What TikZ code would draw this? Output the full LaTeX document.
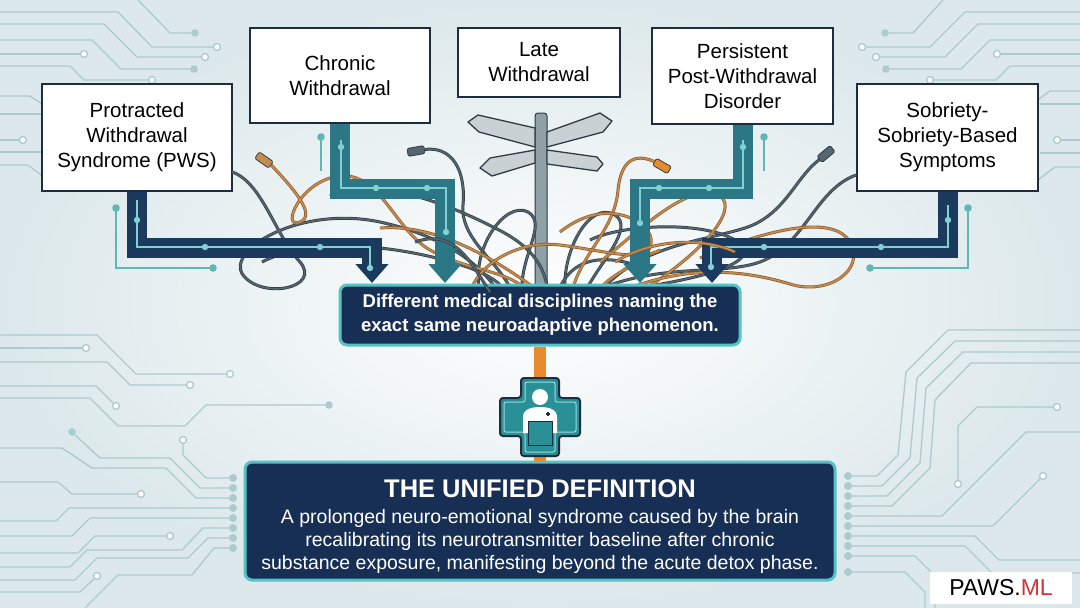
\documentclass[tikz,border=0pt]{standalone}
\usepackage{fontspec}
\setmainfont{Liberation Sans}
\usetikzlibrary{arrows.meta}
\definecolor{navy}{HTML}{1B3A5E}
\definecolor{deepnavy}{HTML}{172F55}
\definecolor{tealarrow}{HTML}{2C7785}
\definecolor{glow}{HTML}{55C2C4}
\definecolor{railteal}{HTML}{5FB8B4}
\definecolor{inkline}{HTML}{1E2C40}
\definecolor{tracecol}{HTML}{ADCACC}
\definecolor{bgedge}{HTML}{DCE8EB}
\definecolor{wiregrey}{HTML}{56666F}
\definecolor{wiredark}{HTML}{2E3B44}
\definecolor{copper}{HTML}{C68C50}
\definecolor{copperdark}{HTML}{8A5A2C}
\definecolor{barorange}{HTML}{EA8A2E}
\definecolor{crossteal}{HTML}{2A9098}
\definecolor{signgrey}{HTML}{C9D1D5}
\definecolor{polegrey}{HTML}{8FA0A7}
\definecolor{logored}{HTML}{D1343B}
\begin{document}
\begin{tikzpicture}[x=1pt,y=-1pt,
  term/.style={draw=inkline, line width=2pt, fill=white, align=center, inner sep=0pt,
    font=\fontsize{20.5}{25}\selectfont},
  flow/.style={line width=20pt, draw=#1, -{Triangle[width=32pt,length=19pt]}},
  rail/.style={draw=#1, line width=1.2pt},
  trace/.style={draw=tracecol, line width=1.3pt},
  wire/.style={draw=wiredark, double=wiregrey, double distance=1.6pt, line width=0.7pt},
  cu/.style={draw=copperdark, double=copper, double distance=1.6pt, line width=0.7pt},
  plug/.style={draw=wiredark, fill=#1, line width=0.8pt, minimum width=17pt,
    minimum height=8pt, inner sep=0pt, rounded corners=1.5pt},
  sign/.style={draw=wiredark, fill=signgrey, line width=1.3pt, line join=round},
  panel/.style={draw=glow, line width=3pt, fill=deepnavy, rounded corners=7pt, inner sep=0pt}
]
\useasboundingbox (0,0) rectangle (1080,608);
\shade[inner color=white, outer color=bgedge] (0,0) rectangle (1080,608);

\draw[trace] (138,0) -- (170,33) -- (191,33);
\draw[trace] (0,12) -- (118,12) -- (152,47) -- (213,47);
\draw[trace] (0,24) -- (104,24) -- (137,57) -- (201,57);
\draw[trace] (0,40) -- (92,40) -- (121,69) -- (190,69);
\draw[trace] (0,54) -- (80,54);
\draw[trace] (0,66) -- (70,66) -- (84,80) -- (148,80);
\draw[trace] (0,96) -- (30,96) -- (48,108);
\draw[trace] (0,114) -- (45,114);
\draw[trace] (0,140) -- (19,140);
\draw[trace] (0,152) -- (45,152);
\draw[trace] (0,165) -- (28,165) -- (45,178);
\draw[trace] (943,0) -- (913,33) -- (889,33);
\draw[trace] (1080,12) -- (965,12) -- (930,47) -- (866,47);
\draw[trace] (1080,24) -- (978,24) -- (945,57) -- (880,57);
\draw[trace] (1080,40) -- (990,40) -- (961,69) -- (890,69);
\draw[trace] (1080,54) -- (1001,54);
\draw[trace] (1080,66) -- (1010,66) -- (996,80) -- (934,80);
\draw[trace] (1080,91) -- (1050,91) -- (1035,102);
\draw[trace] (1080,104) -- (1040,104);
\draw[trace] (1080,140) -- (1061,140);
\draw[trace] (1080,153) -- (1040,153);
\draw[trace] (1080,167) -- (1055,167) -- (1038,180);
\foreach \x/\y in {217/47,205/57,84/54,152/80,23/140,862/47,876/57,997/54,930/80,1057/140}
  \draw[trace, fill=white] (\x,\y) circle (3.5);
\foreach \x/\y in {195/33,194/69,885/33,886/69}
  \fill[tracecol] (\x,\y) circle (3.8);

\draw[trace] (0,335) -- (97,335) -- (136,374) -- (226,374);
\draw[trace] (0,348) -- (82,348);
\draw[trace] (0,362) -- (107,362) -- (130,385) -- (186,385);
\draw[trace] (0,386) -- (96,386) -- (113,403);
\draw[trace] (0,398) -- (90,398) -- (118,426) -- (185,426) -- (206,405) -- (326,405);
\draw[trace] (0,482) -- (58,482) -- (72,494) -- (137,494);
\draw[trace] (231,478) -- (206,478) -- (183,455) -- (183,444);
\draw[trace] (231,488) -- (200,488) -- (170,458) -- (100,458) -- (75,435);
\draw[trace] (231,498) -- (196,498) -- (166,468) -- (92,468) -- (62,448) -- (0,448);
\draw[trace] (0,521) -- (56,521) -- (69,508) -- (231,508);
\draw[trace] (0,536) -- (72,536) -- (90,518) -- (231,518);
\draw[trace] (0,553) -- (78,553) -- (95,536) -- (166,536);
\draw[trace] (0,567) -- (70,567) -- (87,550) -- (182,550) -- (203,528) -- (231,528);
\draw[trace] (0,580) -- (75,580) -- (97,558) -- (188,558) -- (208,538) -- (231,538);
\draw[trace] (85,608) -- (118,575) -- (192,575) -- (214,548) -- (231,548);
\draw[trace] (0,592) -- (80,592) -- (94,579);
\foreach \x/\y in {230/374,86/348,190/385,116/406,141/494,183/440,170/536,97/576}
  \draw[trace, fill=white] (\x,\y) circle (3.5);
\foreach \x/\y in {329/405,72/432}
  \fill[tracecol] (\x,\y) circle (3.8);
\foreach \y in {478,488,...,548}
  \fill[tracecol] (233,\y) circle (4);

\draw[trace] (850,476) -- (877,476) -- (898,455) -- (906,372) -- (948,330) -- (1080,330);
\draw[trace] (850,486) -- (882,486) -- (910,458) -- (917,378) -- (955,341) -- (1080,341);
\draw[trace] (850,496) -- (887,496) -- (920,463) -- (926,388) -- (963,352) -- (1080,352);
\draw[trace] (850,506) -- (892,506) -- (930,468) -- (935,400) -- (971,363) -- (1080,363);
\draw[trace] (850,516) -- (942,516) -- (1026,432) -- (1080,432);
\draw[trace] (850,526) -- (993,526) -- (1040,479);
\draw[trace] (850,536) -- (975,536) -- (999,560) -- (1080,560);
\draw[trace] (850,546) -- (965,546) -- (992,573) -- (1080,573);
\draw[trace] (850,556) -- (915,556) -- (935,576) -- (935,608);
\draw[trace] (850,572) -- (905,572) -- (925,592) -- (925,608);
\draw[trace] (958,480) -- (958,426) -- (977,407) -- (1053,407);
\foreach \x/\y in {1043/476,958/484,1057/407}
  \draw[trace, fill=white] (\x,\y) circle (3.5);
\foreach \y in {476,486,...,556,572}
  \fill[tracecol] (848,\y) circle (4);

\node[term, minimum width=190pt, minimum height=107pt] (pws) at (137,137.5) {Protracted\\Withdrawal\\Syndrome (PWS)};
\node[term, minimum width=180pt, minimum height=95pt] (chronic) at (340,75.5) {Chronic\\Withdrawal};
\node[term, minimum width=162pt, minimum height=69pt] (late) at (539,62.5) {Late\\Withdrawal};
\node[term, minimum width=181pt, minimum height=96pt] (ppwd) at (742.5,76) {Persistent\\Post-Withdrawal\\Disorder};
\node[term, minimum width=181pt, minimum height=107pt] (sobriety) at (947.5,137.5) {Sobriety-\\Sobriety-Based\\Symptoms};

\draw[draw=wiredark, fill=polegrey, line width=1pt, rounded corners=3pt] (535,292) -- (535,113) -- (547,113) -- (547,292);
\draw[sign] (468,122) -- (478,115) -- (535,128) -- (535,147) -- (479,132) -- cycle;
\draw[sign] (547,132) -- (600,113) -- (612,121) -- (603,132) -- (547,147) -- cycle;
\draw[sign] (480,168) -- (490,158) -- (535,150) -- (535,163) -- (492,176) -- cycle;
\draw[sign] (547,150) -- (597,157) -- (603,164) -- (597,171) -- (547,164) -- cycle;

\node[plug=copper, rotate=-35] (plugl) at (264,160) {};
\node[plug=wiregrey, rotate=10] (plugm) at (416,151) {};
\node[plug=barorange, rotate=-30] (plugo) at (662,166) {};
\node[plug=wiregrey, rotate=40] (plugr) at (826,154) {};

\draw[wire] (232,172) .. controls (262,182) and (275,235) .. (300,262) .. controls (322,288) and (262,300) .. (243,275) .. controls (225,250) and (300,205) .. (380,222) .. controls (440,235) and (480,262) .. (498,292);
\draw[wire] (plugm.east) .. controls (452,146) and (466,170) .. (463,205) .. controls (460,240) and (500,262) .. (512,292);
\draw[wire] (330,196) .. controls (380,176) and (450,205) .. (495,228) .. controls (530,245) and (545,265) .. (548,292);
\draw[wire] (480,292) .. controls (470,250) and (505,200) .. (528,212) .. controls (548,224) and (520,255) .. (522,292);
\draw[wire] (565,292) .. controls (562,250) and (590,200) .. (615,215) .. controls (635,228) and (600,262) .. (585,292);
\draw[wire] (plugr.west) .. controls (795,178) and (785,215) .. (745,228) .. controls (700,242) and (640,245) .. (600,292);
\draw[wire] (sobriety.west |- 0,175) .. controls (815,190) and (805,245) .. (760,262) .. controls (720,276) and (660,262) .. (592,292);
\draw[wire] (262,262) .. controls (320,232) and (420,250) .. (470,268) .. controls (490,276) and (500,282) .. (505,292);
\draw[wire] (590,240) .. controls (620,225) and (700,220) .. (735,240) .. controls (770,262) and (700,280) .. (610,292);
\draw[wire] (650,270) .. controls (600,250) and (570,260) .. (558,292);
\draw[cu] (plugl.east) .. controls (290,185) and (318,215) .. (300,222) .. controls (280,230) and (300,180) .. (340,176) .. controls (380,172) and (395,230) .. (430,250) .. controls (470,272) and (510,270) .. (528,292);
\draw[cu] (380,228) .. controls (420,225) and (470,240) .. (540,292);
\draw[cu] (plugo.west) .. controls (628,150) and (620,170) .. (618,190) .. controls (615,230) and (580,255) .. (572,292);
\draw[cu] (600,262) .. controls (640,230) and (690,180) .. (720,196) .. controls (740,210) and (700,255) .. (640,292);
\draw[cu] (700,258) .. controls (760,232) and (832,212) .. (850,242) .. controls (866,270) and (828,296) .. (790,284) .. controls (750,272) and (690,262) .. (620,292);
\draw[cu] (470,292) .. controls (480,262) and (520,240) .. (560,245) .. controls (600,250) and (640,262) .. (660,250);
\draw[cu] (560,232) .. controls (600,200) and (640,215) .. (650,235) .. controls (660,260) and (610,270) .. (598,292);

\node[panel, minimum width=400pt, minimum height=60pt, text=white, align=center,
  font=\bfseries\fontsize{18.5}{24}\selectfont] (hub) at (540,315) {Different medical disciplines naming the\\exact same neuroadaptive phenomenon.};

\coordinate (tipa) at (372,283);
\coordinate (tipb) at (445,283);
\coordinate (tipc) at (640,283);
\coordinate (tipd) at (712,283);
\draw[flow=navy] (pws.south) -- ++(0,56) -| (tipa);
\draw[flow=tealarrow] (chronic.south) -- ++(0,65) -| (tipb);
\draw[flow=tealarrow] (ppwd.south) -- ++(0,64) -| (tipc);
\draw[flow=navy] (sobriety.south) -- ++(0,56) -| (tipd);

\draw[rail=glow!75!white] (137,200) |- (370,247) -- (370,268);
\draw[rail=glow!75!white] (341,140) |- (446,188) -- (446,232);
\draw[rail=glow!75!white] (743,140) |- (640,188) -- (640,223);
\draw[rail=glow!75!white] (948,205) |- (711,247) -- (711,267);
\foreach \x/\y in {137/220,205/247,320/247,370/268,341/147,376/188,427/188,446/232,743/147,709/188,659/188,640/223,948/220,881/247,764/247,711/267}
  \fill[glow!75!white] (\x,\y) circle (3.2);
\draw[rail=railteal] (116,208) -- (116,268) -- (213,268);
\draw[rail=railteal] (321,137) -- (321,171);
\draw[rail=railteal] (764,137) -- (764,171);
\draw[rail=railteal] (968,208) -- (968,268) -- (870,268);
\foreach \x/\y in {116/208,213/268,321/137,764/137,968/208,870/268}
  \fill[railteal] (\x,\y) circle (3.8);

\draw[wire] (415,242) .. controls (455,228) and (470,262) .. (490,292);
\draw[cu] (615,262) .. controls (650,240) and (700,236) .. (735,252);

\node[panel, minimum width=590pt, minimum height=118pt] (defn) at (540,521) {};
\draw[barorange, line width=12pt] (hub.south) -- (defn.north);
\coordinate (icon) at (540,417);
\begin{scope}[shift={(icon)}]
  \draw[inkline, line width=2pt, fill=crossteal, rounded corners=3pt] (-19,-39) -- (19,-39) -- (19,-19) -- (40,-19) -- (40,19) -- (19,19) -- (19,39) -- (-19,39) -- (-19,19) -- (-40,19) -- (-40,-19) -- (-19,-19) -- cycle;
  \draw[glow!60!white, line width=1pt, rounded corners=2pt] (-15,-35) -- (15,-35) -- (15,-15) -- (36,-15) -- (36,15) -- (15,15) -- (15,35) -- (-15,35) -- (-15,15) -- (-36,15) -- (-36,-15) -- (-15,-15) -- cycle;
  \fill[white] (0,-20) circle (8);
  \fill[white] (-17,16) -- (-17,0) .. controls (-17,-8) and (-8,-10) .. (0,-10) .. controls (8,-10) and (17,-8) .. (17,0) -- (17,16) -- cycle;
  \draw[inkline, line width=1pt, fill=crossteal] (-12,4) rectangle (12,28);
  \draw[inkline, line width=1.2pt] (6,-3) -- (10,-3) (8,-5) -- (8,-1);
\end{scope}
\node[text=white, font=\bfseries\fontsize{25.5}{30}\selectfont] (deftitle) at (540,489) {THE UNIFIED DEFINITION};
\node[text=white, align=center, font=\fontsize{19.5}{23}\selectfont] (deftext) at (540,541) {A prolonged neuro-emotional syndrome caused by the brain\\recalibrating its neurotransmitter baseline after chronic\\substance exposure, manifesting beyond the acute detox phase.};

\node[fill=white, minimum width=142pt, minimum height=32pt, inner sep=0pt,
  font=\fontsize{23}{26}\selectfont] (logo) at (1001,588) {PAWS.\textcolor{logored}{ML}};
\end{tikzpicture}
\end{document}
